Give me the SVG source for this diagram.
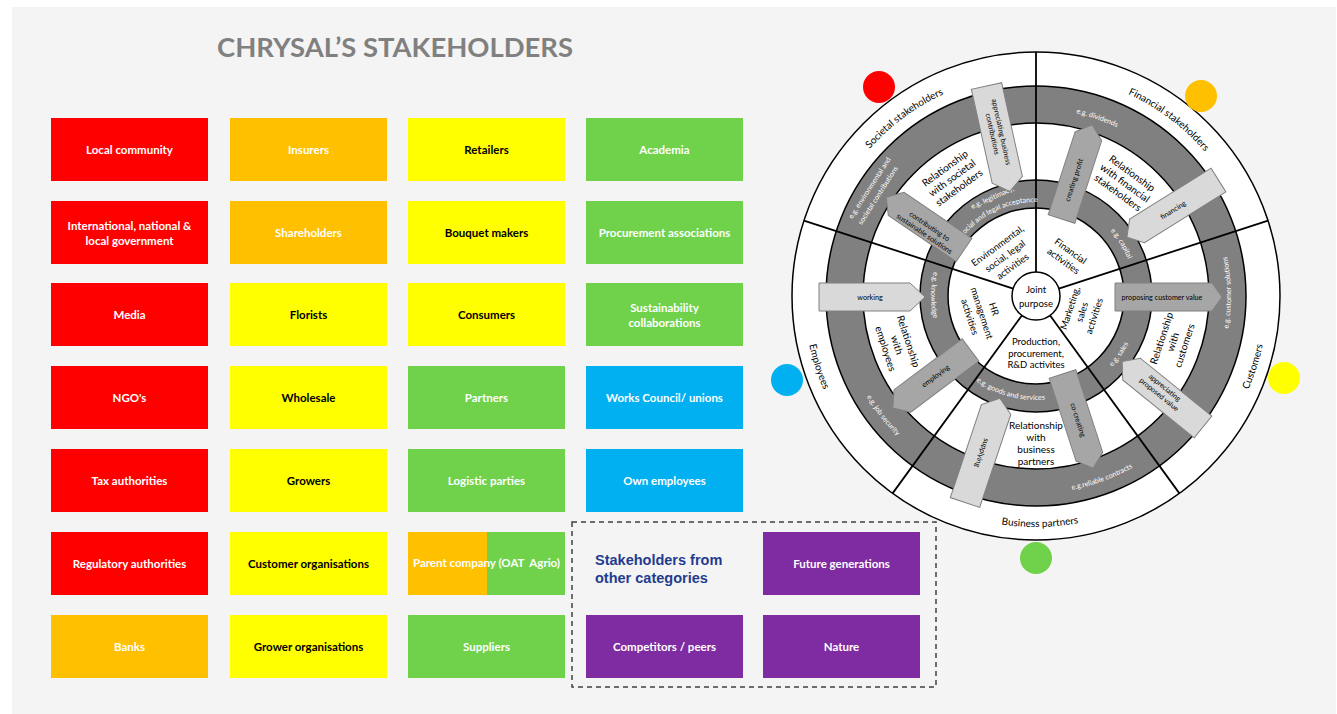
<svg xmlns="http://www.w3.org/2000/svg" width="1337" height="714" viewBox="0 0 1337 714">
<style>
.bx{font-family:Lato,'Open Sans',sans-serif;font-size:11.5px;font-weight:bold;text-anchor:middle}
.w{fill:#ffffff}
.k{fill:#000000}
.lbl{font-family:Lato,'Open Sans',sans-serif;font-size:10px;fill:#000}
.band{font-family:Lato,'Open Sans',sans-serif;font-size:7.2px;fill:#fff}
.mid{font-family:Lato,'Open Sans',sans-serif;font-size:10px;fill:#000;text-anchor:middle}
.inn{font-family:Lato,'Open Sans',sans-serif;font-size:9.5px;fill:#000;text-anchor:middle}
.at{font-family:Lato,'Open Sans',sans-serif;font-size:7.2px;fill:#000;text-anchor:middle}
.ring{stroke:#000;stroke-width:1.5}
.spoke{stroke:#000;stroke-width:1.8}
.al{fill:#d9d9d9;stroke:#808080;stroke-width:1}
.ad{fill:#a6a6a6;stroke:#808080;stroke-width:1}
</style>
<defs>
<path id="p_soc" d="M840.90,190.07 A222,222 0 0 1 991.74,78.46"/>
<path id="p_fin" d="M1082.16,78.85 A222,222 0 0 1 1232.01,191.78"/>
<path id="p_cus" d="M1205.67,454.22 A232,232 0 0 0 1266.27,267.73"/>
<path id="p_bus" d="M942.04,507.03 A231,231 0 0 0 1137.26,503.62"/>
<path id="p_emp" d="M805.73,267.73 A232,232 0 0 0 866.33,454.22"/>
<path id="p_div" d="M1016.45,110.02 A187,187 0 0 1 1165.90,161.48"/>
<path id="p_csol" d="M1214.14,375.31 A195,195 0 0 0 1211.26,210.52"/>
<path id="p_rel" d="M1018.83,492.25 A197,197 0 0 0 1175.30,435.30"/>
<path id="p_job" d="M844.05,340.32 A197,197 0 0 0 946.56,471.53"/>
<path id="p_leg2" d="M950.81,256.27 A94,94 0 0 1 1060.33,205.20"/>
<path id="p_cap" d="M1090.64,213.44 A99,99 0 0 1 1134.36,284.79"/>
<path id="p_sal" d="M1088,386.07 A104,104 0 0 0 1138.42,314.06"/>
<path id="p_goo" d="M956.33,362.85 A104,104 0 0 0 1071.57,393.73"/>
<path id="p_kno" d="M945.53,242.71 A105,105 0 0 0 944.61,347.70"/>
</defs>

<rect x="0" y="0" width="1337" height="714" fill="#ffffff"/>
<rect x="12" y="7" width="1324" height="707" fill="#f4f4f4"/>

<text x="217" y="57" font-family="Lato,'Open Sans',sans-serif" font-size="27.5" font-weight="bold" fill="#808080" textLength="356" lengthAdjust="spacingAndGlyphs">CHRYSAL’S STAKEHOLDERS</text>

<!-- column 1 -->
<g id="local-community"><rect x="51" y="118" width="157" height="63" fill="#ff0000"/><text class="bx w" x="129.5" y="153.5">Local community</text></g>
<g id="government"><rect x="51" y="201" width="157" height="63" fill="#ff0000"/><text class="bx w" x="129.5" y="229.5">International, national &amp;</text><text class="bx w" x="129.5" y="244.5">local government</text></g>
<g id="media"><rect x="51" y="283" width="157" height="63" fill="#ff0000"/><text class="bx w" x="129.5" y="318.5">Media</text></g>
<g id="ngos"><rect x="51" y="366" width="157" height="63" fill="#ff0000"/><text class="bx w" x="129.5" y="401.5">NGO's</text></g>
<g id="tax-authorities"><rect x="51" y="449" width="157" height="63" fill="#ff0000"/><text class="bx w" x="129.5" y="484.5">Tax authorities</text></g>
<g id="regulatory-authorities"><rect x="51" y="532" width="157" height="63" fill="#ff0000"/><text class="bx w" x="129.5" y="567.5">Regulatory authorities</text></g>
<g id="banks"><rect x="51" y="615" width="157" height="63" fill="#ffc000"/><text class="bx w" x="129.5" y="650.5">Banks</text></g>

<!-- column 2 -->
<g id="insurers"><rect x="230" y="118" width="157" height="63" fill="#ffc000"/><text class="bx w" x="308.5" y="153.5">Insurers</text></g>
<g id="shareholders"><rect x="230" y="201" width="157" height="63" fill="#ffc000"/><text class="bx w" x="308.5" y="236.5">Shareholders</text></g>
<g id="florists"><rect x="230" y="283" width="157" height="63" fill="#ffff00"/><text class="bx k" x="308.5" y="318.5">Florists</text></g>
<g id="wholesale"><rect x="230" y="366" width="157" height="63" fill="#ffff00"/><text class="bx k" x="308.5" y="401.5">Wholesale</text></g>
<g id="growers"><rect x="230" y="449" width="157" height="63" fill="#ffff00"/><text class="bx k" x="308.5" y="484.5">Growers</text></g>
<g id="customer-organisations"><rect x="230" y="532" width="157" height="63" fill="#ffff00"/><text class="bx k" x="308.5" y="567.5">Customer organisations</text></g>
<g id="grower-organisations"><rect x="230" y="615" width="157" height="63" fill="#ffff00"/><text class="bx k" x="308.5" y="650.5">Grower organisations</text></g>

<!-- column 3 -->
<g id="retailers"><rect x="408" y="118" width="157" height="63" fill="#ffff00"/><text class="bx k" x="486.5" y="153.5">Retailers</text></g>
<g id="bouquet-makers"><rect x="408" y="201" width="157" height="63" fill="#ffff00"/><text class="bx k" x="486.5" y="236.5">Bouquet makers</text></g>
<g id="consumers"><rect x="408" y="283" width="157" height="63" fill="#ffff00"/><text class="bx k" x="486.5" y="318.5">Consumers</text></g>
<g id="partners"><rect x="408" y="366" width="157" height="63" fill="#6fd24a"/><text class="bx w" x="486.5" y="401.5">Partners</text></g>
<g id="logistic-parties"><rect x="408" y="449" width="157" height="63" fill="#6fd24a"/><text class="bx w" x="486.5" y="484.5">Logistic parties</text></g>
<g id="parent-company"><rect x="408" y="532" width="79" height="63" fill="#ffc000"/><rect x="487" y="532" width="78" height="63" fill="#6fd24a"/><text class="bx w" x="486.5" y="566.5">Parent company (OAT&#160; Agrio)</text></g>
<g id="suppliers"><rect x="408" y="615" width="157" height="63" fill="#6fd24a"/><text class="bx w" x="486.5" y="650.5">Suppliers</text></g>

<!-- column 4 -->
<g id="academia"><rect x="586" y="118" width="157" height="63" fill="#6fd24a"/><text class="bx w" x="664.5" y="153.5">Academia</text></g>
<g id="procurement-associations"><rect x="586" y="201" width="157" height="63" fill="#6fd24a"/><text class="bx w" x="664.5" y="236.5">Procurement associations</text></g>
<g id="sustainability-collaborations"><rect x="586" y="283" width="157" height="63" fill="#6fd24a"/><text class="bx w" x="664.5" y="311.5">Sustainability</text><text class="bx w" x="664.5" y="326.5">collaborations</text></g>
<g id="works-council"><rect x="586" y="366" width="157" height="63" fill="#00b0f0"/><text class="bx w" x="664.5" y="401.5">Works Council/ unions</text></g>
<g id="own-employees"><rect x="586" y="449" width="157" height="63" fill="#00b0f0"/><text class="bx w" x="664.5" y="484.5">Own employees</text></g>

<!-- other categories -->
<g id="other-categories">
<rect x="572" y="522" width="364" height="165" fill="none" stroke="#404040" stroke-width="1.5" stroke-dasharray="5 4"/>
<text x="595" y="565" font-family="'Liberation Sans',Arial,sans-serif" font-size="14.5" font-weight="bold" fill="#1f3d8f">Stakeholders from</text>
<text x="595" y="583" font-family="'Liberation Sans',Arial,sans-serif" font-size="14.5" font-weight="bold" fill="#1f3d8f">other categories</text>
</g>
<g id="future-generations"><rect x="763" y="532" width="157" height="63" fill="#7f2ba1"/><text class="bx w" x="841.5" y="567.5">Future generations</text></g>
<g id="competitors"><rect x="586" y="615" width="157" height="63" fill="#7f2ba1"/><text class="bx w" x="664.5" y="650.5">Competitors / peers</text></g>
<g id="nature"><rect x="763" y="615" width="157" height="63" fill="#7f2ba1"/><text class="bx w" x="841.5" y="650.5">Nature</text></g>

<!-- wheel -->
<g id="wheel">
<circle cx="1036" cy="296" r="244" fill="#ffffff" class="ring"/>
<circle cx="1036" cy="296" r="210" fill="#808080" class="ring"/>
<circle cx="1036" cy="296" r="173" fill="#ffffff" class="ring"/>
<circle cx="1036" cy="296" r="116" fill="#808080" class="ring"/>
<circle cx="1036" cy="296" r="88" fill="#ffffff" class="ring"/>
<line class="spoke" x1="1036" y1="272" x2="1036" y2="52"/>
<line class="spoke" x1="1058.83" y1="288.58" x2="1268.06" y2="220.60"/>
<line class="spoke" x1="1050.11" y1="315.42" x2="1179.42" y2="493.40"/>
<line class="spoke" x1="1021.89" y1="315.42" x2="892.58" y2="493.40"/>
<line class="spoke" x1="1013.17" y1="288.58" x2="803.94" y2="220.60"/>
<circle cx="1036" cy="296" r="24" fill="#ffffff" class="ring"/>

<text class="lbl"><textPath href="#p_soc" startOffset="50%" text-anchor="middle">Societal stakeholders</textPath></text>
<text class="lbl"><textPath href="#p_fin" startOffset="50%" text-anchor="middle">Financial stakeholders</textPath></text>
<text class="lbl"><textPath href="#p_cus" startOffset="50%" text-anchor="middle">Customers</textPath></text>
<text class="lbl"><textPath href="#p_bus" startOffset="50%" text-anchor="middle">Business partners</textPath></text>
<text class="lbl"><textPath href="#p_emp" startOffset="50%" text-anchor="middle">Employees</textPath></text>

<text class="band" text-anchor="middle" transform="translate(871.6,189.3) rotate(-57)">e.g. environmental and</text>
<text class="band" text-anchor="middle" transform="translate(880,196.6) rotate(-57.5)">societal contributions</text>
<text class="band"><textPath href="#p_div" startOffset="50%" text-anchor="middle">e.g. dividends</textPath></text>
<text class="band"><textPath href="#p_csol" startOffset="50%" text-anchor="middle">e.g. customer solutions</textPath></text>
<text class="band"><textPath href="#p_rel" startOffset="50%" text-anchor="middle">e.g.reliable contracts</textPath></text>
<text class="band"><textPath href="#p_job" startOffset="50%" text-anchor="middle">e.g. job security</textPath></text>
<text class="band" text-anchor="middle" transform="translate(993.3,199.6) rotate(-24)">e.g. legitimacy,</text>
<text class="band"><textPath href="#p_leg2" startOffset="50%" text-anchor="middle">social and legal acceptance</textPath></text>
<text class="band"><textPath href="#p_cap" startOffset="50%" text-anchor="middle">e.g. capital</textPath></text>
<text class="band"><textPath href="#p_sal" startOffset="50%" text-anchor="middle">e.g. sales</textPath></text>
<text class="band"><textPath href="#p_goo" startOffset="50%" text-anchor="middle">e.g. goods and services</textPath></text>
<text class="band"><textPath href="#p_kno" startOffset="50%" text-anchor="middle">e.g. knowledge</textPath></text>

<g transform="translate(952,178) rotate(-36)"><text class="mid" y="-8.5">Relationship</text><text class="mid" y="3.5">with societal</text><text class="mid" y="15.5">stakeholders</text></g>
<g transform="translate(1125,183) rotate(36)"><text class="mid" y="-8.5">Relationship</text><text class="mid" y="3.5">with financial</text><text class="mid" y="15.5">stakeholders</text></g>
<g transform="translate(1173,342) rotate(-72)"><text class="mid" y="-8.5">Relationship</text><text class="mid" y="3.5">with</text><text class="mid" y="15.5">customers</text></g>
<g transform="translate(897,345) rotate(72)"><text class="mid" y="-8.5">Relationship</text><text class="mid" y="3.5">with</text><text class="mid" y="15.5">employees</text></g>
<text class="mid" x="1036" y="428.5">Relationship</text>
<text class="mid" x="1036" y="440.5">with</text>
<text class="mid" x="1036" y="452.5">business</text>
<text class="mid" x="1036" y="464.5">partners</text>

<g transform="translate(1005,256) rotate(-36)"><text class="inn" y="-9.3">Environmental,</text><text class="inn" y="3.4">social, legal</text><text class="inn" y="16.1">activities</text></g>
<g transform="translate(1067,256) rotate(36)"><text class="inn" y="-2.8">Financial</text><text class="inn" y="9.4">activities</text></g>
<g transform="translate(1082,312) rotate(-72)"><text class="inn" y="-9.3">Marketing,</text><text class="inn" y="3.4">sales</text><text class="inn" y="16.1">activities</text></g>
<g transform="translate(982,313) rotate(72)"><text class="inn" y="-9.3">HR</text><text class="inn" y="3.4">management</text><text class="inn" y="16.1">activities</text></g>
<text class="inn" x="1036" y="345" font-size="9">Production,</text>
<text class="inn" x="1036" y="356.5" font-size="9">procurement,</text>
<text class="inn" x="1036" y="368" font-size="9">R&amp;D activites</text>
<text class="inn" x="1036" y="293" font-size="11">Joint</text>
<text class="inn" x="1036" y="306.5" font-size="11">purpose</text>
</g>

<!-- relationship arrows -->
<g id="connectors">
<polygon class="al" transform="translate(986.5,86) rotate(77.5)" points="0,-15.5 96,-15.5 108,0 96,15.5 0,15.5"/>
<polygon class="ad" transform="translate(964,250) rotate(214.2)" points="0,-14 82,-14 94,0 82,14 0,14"/>
<polygon class="ad" transform="translate(1061.5,219) rotate(-72)" points="0,-14 87,-14 99,0 87,14 0,14"/>
<polygon class="al" transform="translate(1218.5,180) rotate(148)" points="0,-14 96,-14 108,0 96,14 0,14"/>
<polygon class="ad" transform="translate(1115,297)" points="0,-14 97,-14 107,0 97,14 0,14"/>
<polygon class="al" transform="translate(1203,427) rotate(219)" points="0,-14 92,-14 104,0 92,14 0,14"/>
<polygon class="ad" transform="translate(1062.5,374) rotate(72)" points="0,-14 87,-14 99,0 87,14 0,14"/>
<polygon class="al" transform="translate(965,502.5) rotate(-71.5)" points="0,-15.5 98,-15.5 110,0 98,15.5 0,15.5"/>
<polygon class="al" transform="translate(819,297)" points="0,-14 91,-14 106,0 91,14 0,14"/>
<polygon class="ad" transform="translate(970.5,350) rotate(143.2)" points="0,-14 85,-14 97,0 85,14 0,14"/>

<g transform="translate(997,133) rotate(77.5)"><text class="at" y="-2">appreciating business</text><text class="at" y="7">contributions</text></g>
<g transform="translate(927,230) rotate(34.2)"><text class="at" y="-2">contributing to</text><text class="at" y="7">sustainable solutions</text></g>
<g transform="translate(1074,180) rotate(-72)"><text class="at" y="2.5">creating profit</text></g>
<g transform="translate(1173,210) rotate(-32)"><text class="at" y="2.5">financing</text></g>
<g transform="translate(1162,297)"><text class="at" y="2.5">proposing customer value</text></g>
<g transform="translate(1162,391) rotate(39)"><text class="at" y="-2">appreciating</text><text class="at" y="7">proposed value</text></g>
<g transform="translate(1078,420) rotate(72)"><text class="at" y="2.5">co-creating</text></g>
<g transform="translate(982,453) rotate(108.5)"><text class="at" y="2.5">supplying</text></g>
<g transform="translate(870,297)"><text class="at" y="2.5">working</text></g>
<g transform="translate(935.5,376) rotate(-36.8)"><text class="at" y="2.5">employing</text></g>
</g>

<!-- colour dots -->
<g id="dots">
<circle cx="879" cy="87" r="16" fill="#ff0000"/>
<circle cx="1201" cy="96" r="16" fill="#ffc000"/>
<circle cx="787" cy="380" r="16" fill="#00b0f0"/>
<circle cx="1284" cy="378" r="16" fill="#ffff00"/>
<circle cx="1036" cy="558" r="16" fill="#6fd24a"/>
</g>
</svg>
